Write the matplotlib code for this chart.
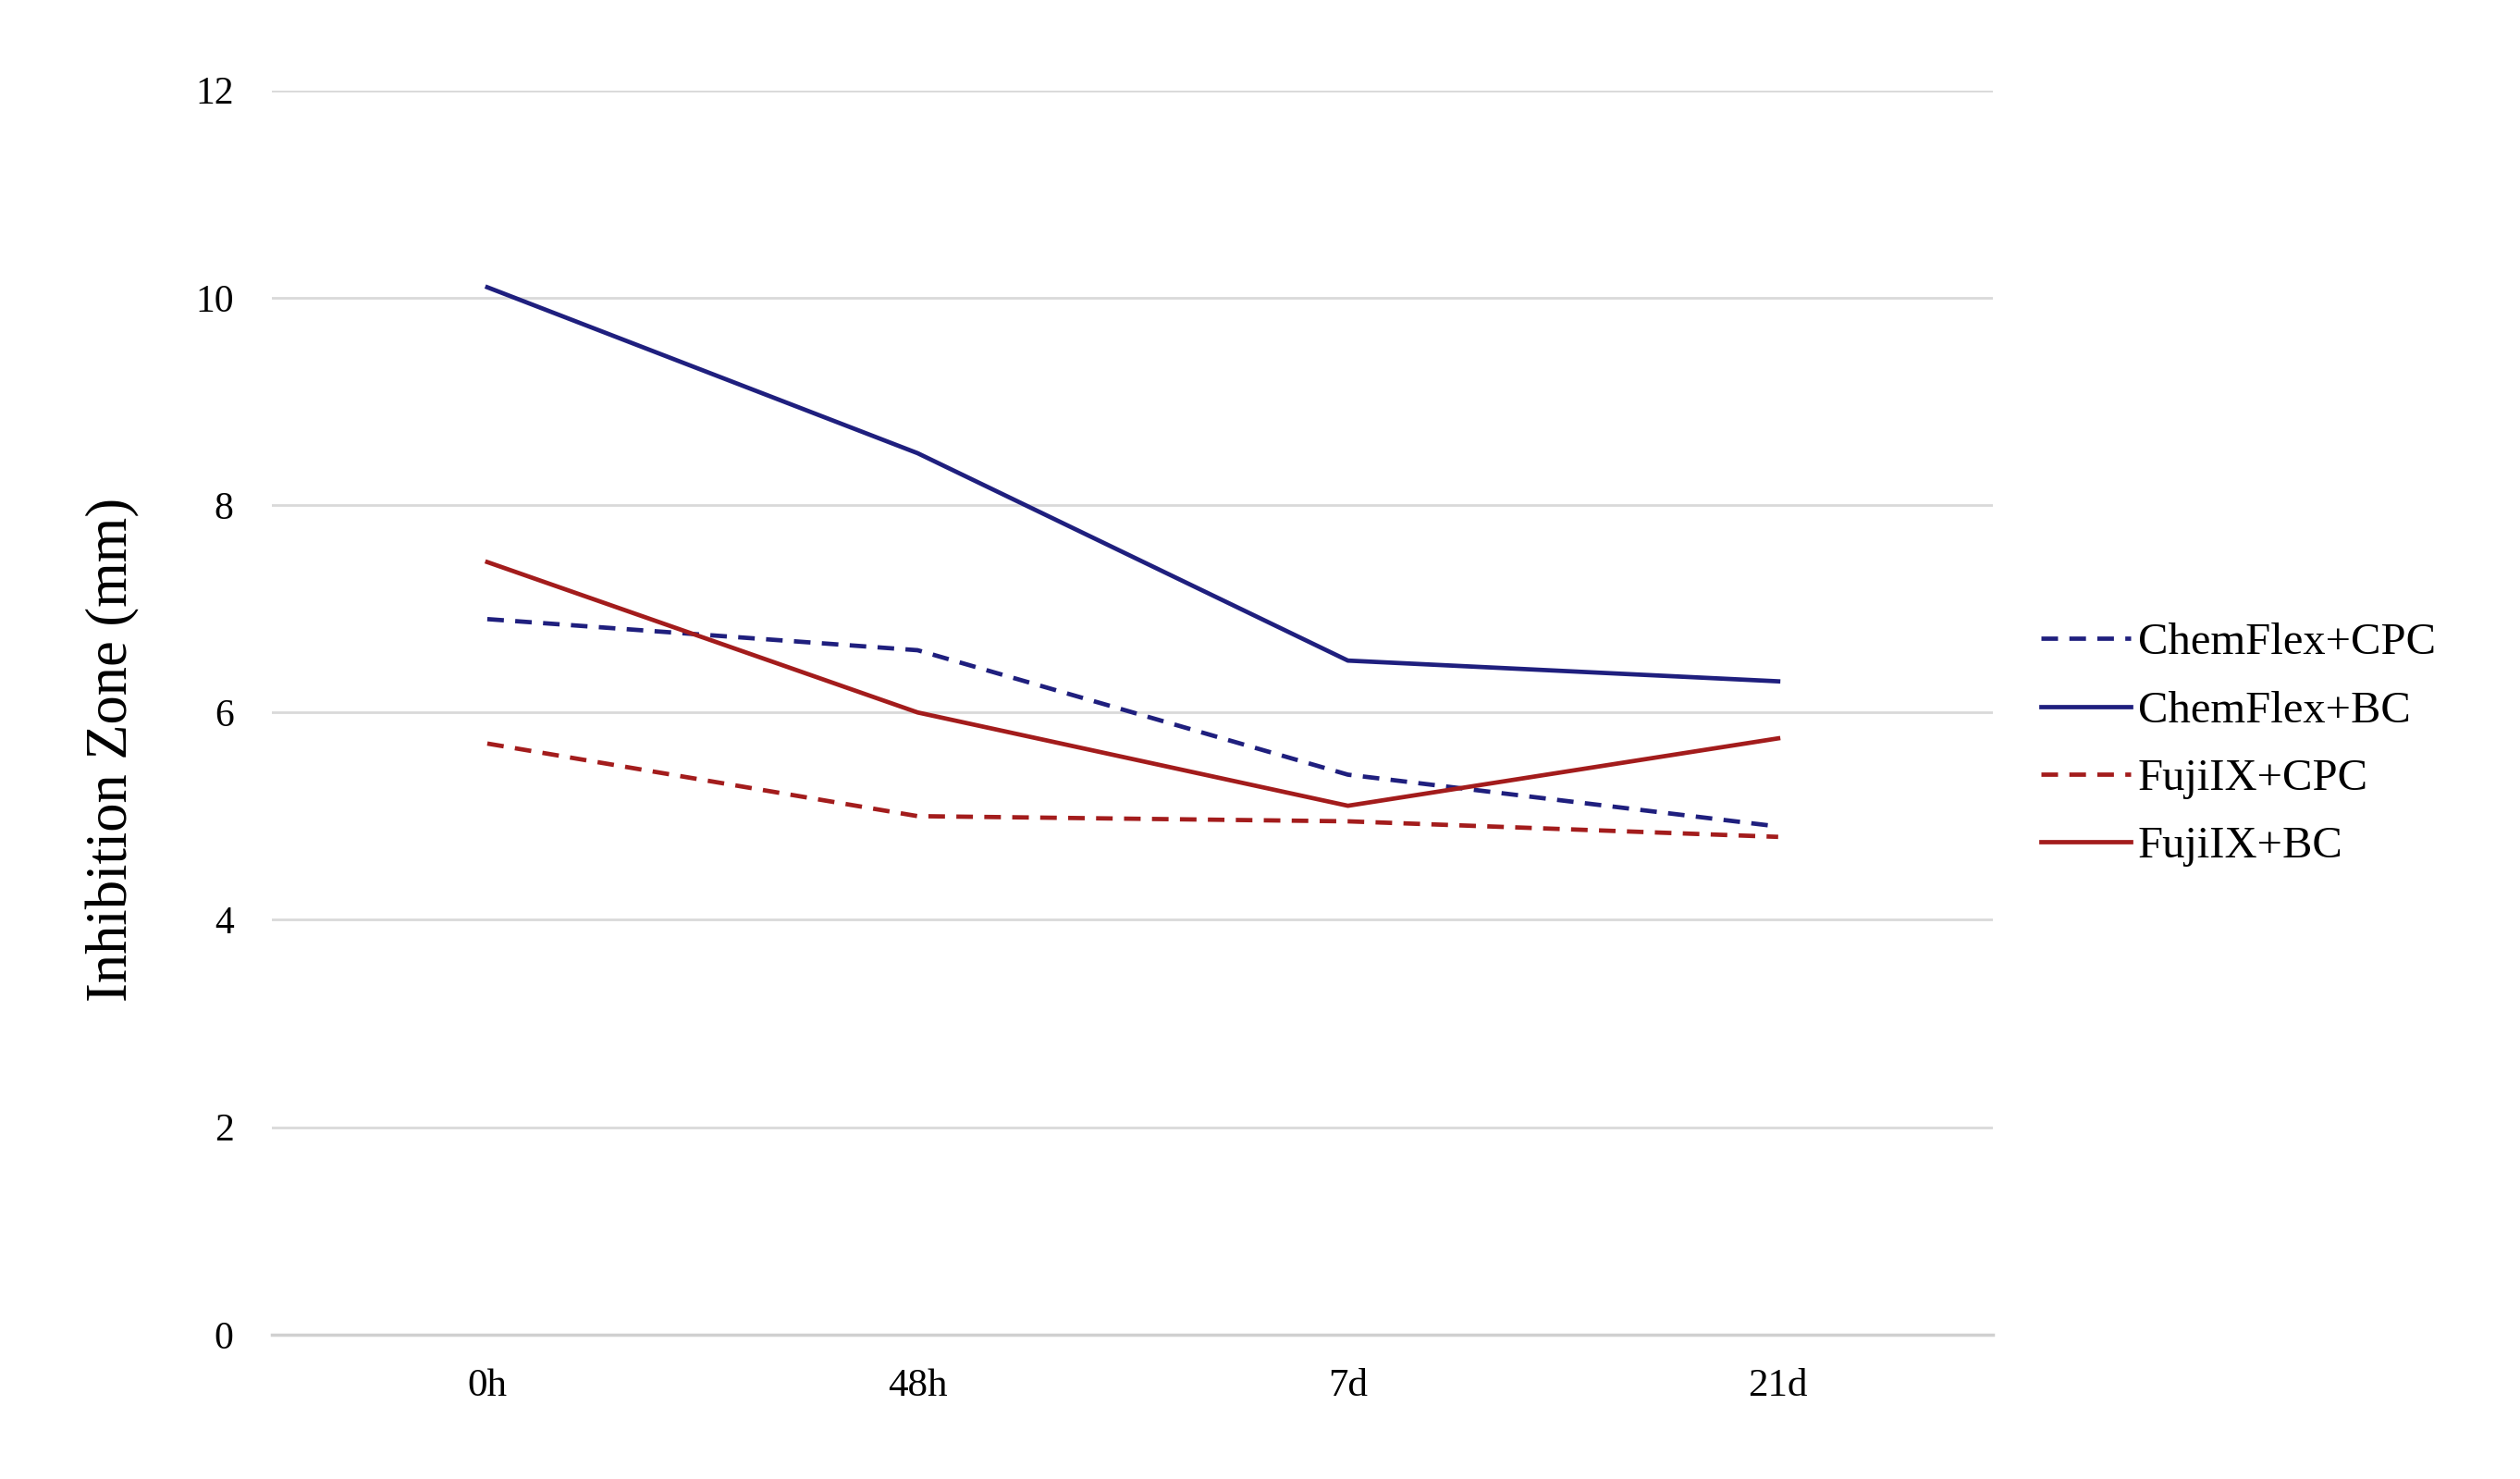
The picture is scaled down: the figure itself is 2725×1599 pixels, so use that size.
import numpy as np
import matplotlib.pyplot as plt

plt.rcParams['font.family'] = ['Liberation Serif', 'DejaVu Serif']

timepoints = ["0h", "48h", "7d", "21d"]
chemflex_cpc = [6.9, 6.6, 5.4, 4.9]
chemflex_bc = [10.1, 8.5, 6.5, 6.3]
fuji_cpc = [5.7, 5.0, 4.95, 4.8]
fuji_bc = [7.45, 6.0, 5.1, 5.75]
series_names = ["ChemFlex+CPC", "ChemFlex+BC", "FujiIX+CPC", "FujiIX+BC"]

navy = "#1f1f7e"
red = "#a31c1c"
dash = (3.8, 2.6)

fig = plt.figure(figsize=(27.25, 15.99), dpi=100)
ax = fig.add_axes([0.108, 0.0976, 0.683, 0.8414])

x = np.arange(len(timepoints))
ax.plot(x, chemflex_cpc, color=navy, lw=3.4, linestyle=(0, dash), label=series_names[0])
ax.plot(x, chemflex_bc, color=navy, lw=3.4, label=series_names[1])
ax.plot(x, fuji_cpc, color=red, lw=3.4, linestyle=(0, dash), label=series_names[2])
ax.plot(x, fuji_bc, color=red, lw=3.4, label=series_names[3])

ax.set_xlim(-0.5, 3.5)
ax.set_ylim(0, 12)
ax.set_yticks(np.arange(0, 13, 2))
ax.set_xticks(x)
ax.set_xticklabels(timepoints)
ax.yaxis.grid(True, color="#d9d9d9", lw=2)
ax.set_axisbelow(True)
for s in ["top", "right", "left"]:
    ax.spines[s].set_visible(False)
ax.spines["bottom"].set_color("#d0d0d0")
ax.spines["bottom"].set_linewidth(2.5)
ax.tick_params(axis="both", length=0)
ax.tick_params(axis="y", pad=30, labelsize=30)
ax.tick_params(axis="x", pad=26, labelsize=31)
ax.set_ylabel("Inhibition Zone (mm)", fontsize=45)
ax.yaxis.set_label_coords(-0.077, 0.47)

ax.legend(loc="center left", bbox_to_anchor=(1.004, 0.474), frameon=False,
          fontsize=35, handlelength=2.0, handletextpad=0.16, labelspacing=0.6)

fig.savefig("out.png", dpi=100, facecolor="white")
